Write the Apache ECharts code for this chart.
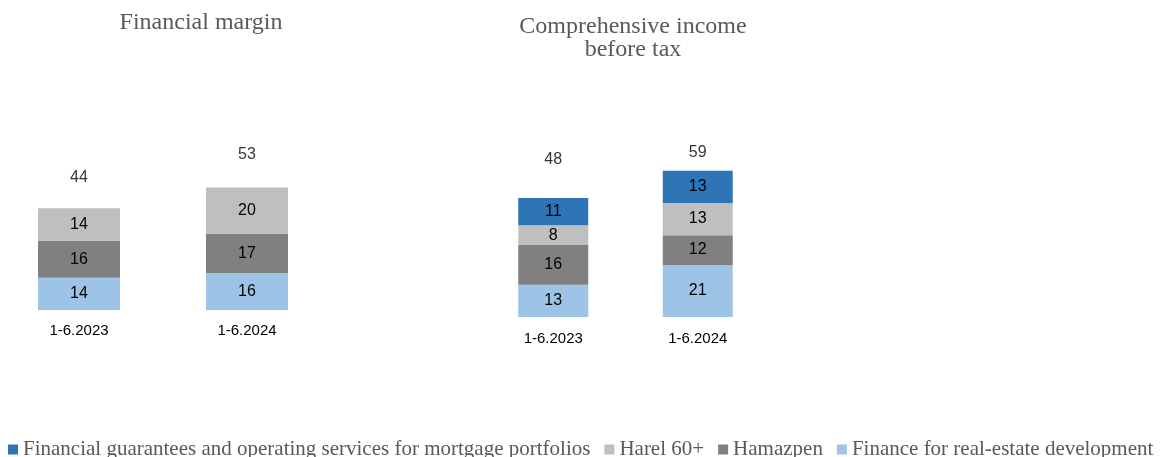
<!DOCTYPE html>
<html>
<head>
<meta charset="utf-8">
<script src="https://cdn.jsdelivr.net/npm/echarts@6/dist/echarts.min.js"></script>
<style>
  html, body { margin: 0; padding: 0; background: #fff; }
  #chart { width: 1160px; height: 457px; }
</style>
</head>
<body>
<div id="chart"></div>
<script>
const periods = ['1-6.2023', '1-6.2024']

// Financial margin
const marginRealEstate = [14, 16]
const marginHamazpen = [16, 17]
const marginHarel = [14, 20]
const marginTotal = [44, 53]

// Comprehensive income before tax
const incomeRealEstate = [13, 21]
const incomeHamazpen = [16, 12]
const incomeHarel = [8, 13]
const incomeGuarantees = [11, 13]
const incomeTotal = [48, 59]

const names = [
  'Financial guarantees and operating services for mortgage portfolios',
  'Harel 60+',
  'Hamazpen',
  'Finance for real-estate development'
]
const colors = {
  'Financial guarantees and operating services for mortgage portfolios': '#2E75B6',
  'Harel 60+': '#BFBFBF',
  'Hamazpen': '#808080',
  'Finance for real-estate development': '#9DC3E6'
}

const labelFont = 'Liberation Sans'

function stackBar(name, data, idx, width) {
  return {
    name: name,
    type: 'bar',
    stack: 'total' + idx,
    xAxisIndex: idx,
    yAxisIndex: idx,
    barWidth: width,
    color: colors[name],
    data: data,
    label: {
      show: true,
      position: 'inside',
      color: '#000',
      fontFamily: labelFont,
      fontSize: 16
    }
  }
}

function totalSeries(data, idx, gaps) {
  return {
    type: 'scatter',
    xAxisIndex: idx,
    yAxisIndex: idx,
    symbolSize: 0,
    silent: true,
    data: data.map((v, i) => ({ value: v, label: { distance: gaps[i] } })),
    label: {
      show: true,
      position: 'top',
      color: '#000',
      fontFamily: labelFont,
      fontSize: 16
    }
  }
}

const chart = echarts.init(document.getElementById('chart'))

const xAxisBase = {
  type: 'category',
  data: periods,
  axisLine: { show: false },
  axisTick: { show: false },
  axisLabel: { color: '#000', fontFamily: labelFont, fontSize: 15, margin: 13 }
}
const yAxisBase = {
  type: 'value',
  min: 0,
  max: 100,
  show: false,
  splitLine: { show: false }
}

chart.setOption({
  animation: false,
  title: [
    {
      text: 'Financial margin',
      left: 196,
      top: 6,
      textAlign: 'center',
      textStyle: { fontFamily: 'Liberation Serif', fontWeight: 'normal', fontSize: 24, color: '#595959' }
    },
    {
      text: 'Comprehensive income\nbefore tax',
      left: 628,
      top: 10,
      textAlign: 'center',
      textStyle: { fontFamily: 'Liberation Serif', fontWeight: 'normal', fontSize: 24, lineHeight: 23, color: '#595959' }
    }
  ],
  legend: {
    data: names,
    left: 3,
    top: 434,
    icon: 'rect',
    itemWidth: 10,
    itemHeight: 10,
    itemGap: 14,
    textStyle: { fontFamily: 'Liberation Serif', fontSize: 21, color: '#595959' }
  },
  grid: [
    { left: -5, width: 336, top: 79, height: 231, outerBoundsMode: 'none' },
    { left: 481, width: 289, top: 69, height: 248, outerBoundsMode: 'none' }
  ],
  xAxis: [
    Object.assign({ gridIndex: 0 }, xAxisBase),
    Object.assign({ gridIndex: 1 }, xAxisBase, { axisLabel: Object.assign({}, xAxisBase.axisLabel, { margin: 14 }) })
  ],
  yAxis: [
    Object.assign({ gridIndex: 0 }, yAxisBase),
    Object.assign({ gridIndex: 1 }, yAxisBase)
  ],
  series: [
    stackBar(names[3], marginRealEstate, 0, 82),
    stackBar(names[2], marginHamazpen, 0, 82),
    stackBar(names[1], marginHarel, 0, 82),
    totalSeries(marginTotal, 0, [23, 25]),
    stackBar(names[3], incomeRealEstate, 1, 70),
    stackBar(names[2], incomeHamazpen, 1, 70),
    stackBar(names[1], incomeHarel, 1, 70),
    stackBar(names[0], incomeGuarantees, 1, 70),
    totalSeries(incomeTotal, 1, [30, 10])
  ]
})
</script>
</body>
</html>
